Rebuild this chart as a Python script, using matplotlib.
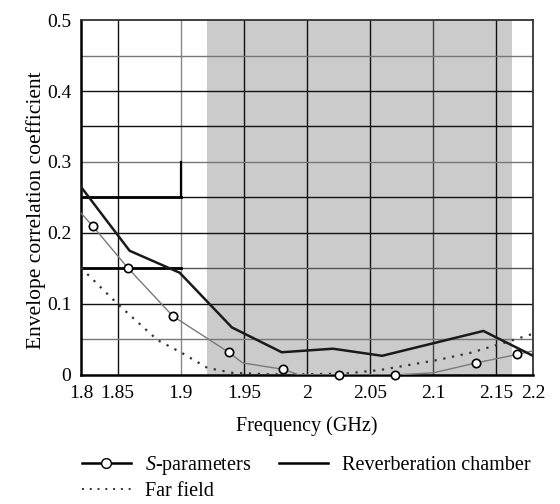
import numpy as np
import matplotlib
matplotlib.use('Agg')
import matplotlib.pyplot as plt
from matplotlib.lines import Line2D

plt.rcParams['font.family'] = ['Liberation Serif', 'DejaVu Serif']
plt.rcParams['mathtext.fontset'] = 'custom'
plt.rcParams['mathtext.it'] = 'Liberation Serif:italic'
plt.rcParams['mathtext.rm'] = 'Liberation Serif'

# axis positions of the printed tick labels (outer labels are squeezed in the original)
tick_pos = [1.821, 1.85, 1.9, 1.95, 2.0, 2.05, 2.1, 2.15, 2.179]
tick_labels = ['1.8', '1.85', '1.9', '1.95', '2', '2.05', '2.1', '2.15', '2.2']

# reverberation chamber
rc_freq = [1.821, 1.8595, 1.8992, 1.9405, 1.980, 2.0206, 2.0595, 2.1397, 2.179]
rc_val = [0.265, 0.175, 0.144, 0.067, 0.032, 0.037, 0.027, 0.062, 0.027]

# S-parameters (line), marker indices below
s_freq = [1.821, 1.8302, 1.858, 1.8937, 1.938, 1.949, 1.981, 1.994, 2.025,
          2.0698, 2.100, 2.134, 2.1667, 2.179]
s_val = [0.228, 0.210, 0.151, 0.083, 0.032, 0.017, 0.008, 0.0, 0.0,
         0.0, 0.003, 0.017, 0.029, 0.034]
s_marks = [1, 2, 3, 4, 6, 8, 9, 11, 12]

# far field
ff_freq = [1.821, 1.85, 1.8817, 1.9, 1.921, 1.941, 1.97, 2.0, 2.03,
           2.058, 2.103, 2.129, 2.1556, 2.179]
ff_val = [0.151, 0.100, 0.049, 0.032, 0.010, 0.003, 0.001, 0.001, 0.002,
          0.007, 0.021, 0.031, 0.045, 0.058]

band = (1.921, 2.162)

fig = plt.figure(figsize=(5.6, 5.04), dpi=100)
ax = fig.add_axes([0.1446, 0.256, 0.8072, 0.7043])

ax.axvspan(band[0], band[1], color='#cbcbcb', lw=0, zorder=0)

# grid
xgrid = [1.85, 1.9, 1.95, 2.0, 2.05, 2.1, 2.15]
xgrid_col = ['#111111', '#888888', '#111111', '#111111', '#111111', '#444444', '#111111']
for xv, c in zip(xgrid, xgrid_col):
    ax.axvline(xv, color=c, lw=1.0, zorder=1)
ygrid = [0.05, 0.1, 0.15, 0.2, 0.25, 0.3, 0.35, 0.4, 0.45]
ygrid_col = ['#777777', '#111111', '#555555', '#111111', '#111111', '#777777',
             '#111111', '#111111', '#777777']
for yv, c in zip(ygrid, ygrid_col):
    ax.axhline(yv, color=c, lw=1.0, zorder=1)
# heavy segments in the original
ax.plot([tick_pos[0], 1.9], [0.25, 0.25], color='black', lw=2.0, zorder=2)
ax.plot([tick_pos[0], 1.9], [0.15, 0.15], color='black', lw=2.0, zorder=2)
ax.plot([1.9, 1.9], [0.25, 0.30], color='black', lw=1.6, zorder=2)

ax.plot(ff_freq, ff_val, color='#333333', lw=1.6, ls=(0, (1, 3)), zorder=3)
ax.plot(s_freq, s_val, color='#7a7a7a', lw=1.0, zorder=4)
ax.plot([s_freq[i] for i in s_marks], [s_val[i] for i in s_marks], 'o', ms=6,
        mfc='white', mec='black', mew=1.2, zorder=5, clip_on=False)
ax.plot(rc_freq, rc_val, color='#1a1a1a', lw=1.8, zorder=4)

ax.set_xlim(tick_pos[0], tick_pos[-1])
ax.set_ylim(0, 0.5)
ax.set_xticks(tick_pos)
ax.set_xticklabels(tick_labels)
ax.set_yticks([0, 0.1, 0.2, 0.3, 0.4, 0.5])
ax.set_yticklabels(['0', '0.1', '0.2', '0.3', '0.4', '0.5'])
ax.tick_params(length=0, labelsize=14)
ax.tick_params(axis='x', pad=7)
ax.tick_params(axis='y', pad=7)
ax.set_xlabel('Frequency (GHz)', fontsize=14.5)
ax.xaxis.set_label_coords(0.5, -0.115)
ax.set_ylabel('Envelope correlation coefficient', fontsize=15.5)
ax.yaxis.set_label_coords(-0.077, 0.465)

for side in ['left', 'bottom']:
    ax.spines[side].set_linewidth(1.8)
    ax.spines[side].set_color('black')
for side in ['top', 'right']:
    ax.spines[side].set_linewidth(1.3)
    ax.spines[side].set_color('#333333')

handles = [
    Line2D([], [], color='black', lw=1.8, marker='o', ms=7, mfc='white', mec='black'),
    Line2D([], [], color='#333333', lw=1.4, ls=(0, (1, 3))),
    Line2D([], [], color='black', lw=1.8),
]
labels = ['$S$-parameters', 'Far field', 'Reverberation chamber']
fig.legend(handles, labels, ncol=2, loc='upper left', bbox_to_anchor=(0.147, 0.1),
           frameon=False, fontsize=14.5, handlelength=2.4, handletextpad=0.7,
           columnspacing=1.4, labelspacing=0.25, borderaxespad=0, borderpad=0)

fig.savefig('out.png', dpi=100)
